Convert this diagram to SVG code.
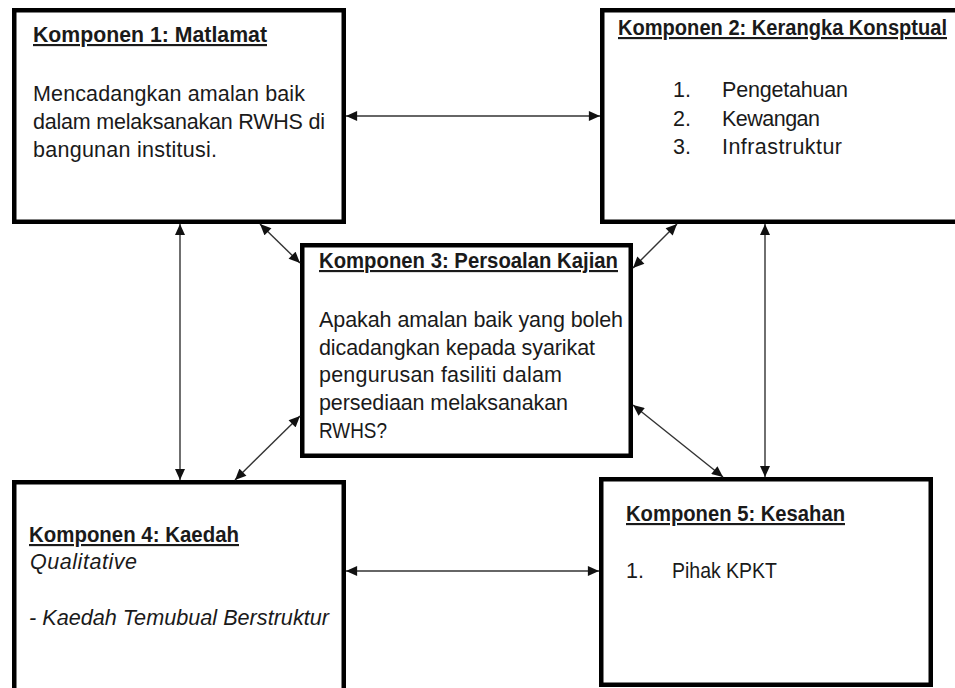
<svg xmlns="http://www.w3.org/2000/svg" width="955" height="688" viewBox="0 0 955 688">
<style>
.box{fill:#fff;stroke:#000;stroke-width:4.5}
text{font-family:"Liberation Sans",Arial,sans-serif;font-size:21.5px;fill:#1a1a1a}
.t{font-weight:bold;text-decoration:underline}
.i{font-style:italic}
.c{stroke:#333;stroke-width:1.4;fill:none;marker-start:url(#ah);marker-end:url(#ah)}
</style>
<defs>
<marker id="ah" markerUnits="userSpaceOnUse" markerWidth="12" markerHeight="10" refX="10" refY="4.5" orient="auto-start-reverse" viewBox="0 0 10 9">
<path d="M0,0 L10,4.5 L0,9 Z" fill="#111"/>
</marker>
</defs>
<rect width="955" height="688" fill="#fff"/>
<g id="node1">
<rect class="box" x="14.25" y="10.25" width="329.5" height="211.5"/>
<text class="t" x="33" y="42" textLength="234" lengthAdjust="spacingAndGlyphs">Komponen 1: Matlamat</text>
<text x="33" y="101" textLength="272">Mencadangkan amalan baik</text>
<text x="33" y="129" textLength="292">dalam melaksanakan RWHS di</text>
<text x="33" y="157" textLength="184">bangunan institusi.</text>
</g>
<g id="node2">
<rect class="box" x="602.25" y="10.25" width="360" height="211.5"/>
<text class="t" x="618" y="35" textLength="329" lengthAdjust="spacingAndGlyphs">Komponen 2: Kerangka Konsptual</text>
<text x="673" y="97">1.</text><text x="722" y="97" textLength="126">Pengetahuan</text>
<text x="673" y="125.5">2.</text><text x="722" y="125.5" textLength="98">Kewangan</text>
<text x="673" y="154">3.</text><text x="722" y="154" textLength="120">Infrastruktur</text>
</g>
<g id="node3">
<rect class="box" x="302.25" y="245.25" width="328.5" height="210.5"/>
<text class="t" x="319" y="268" textLength="299" lengthAdjust="spacingAndGlyphs">Komponen 3: Persoalan Kajian</text>
<text x="319" y="327" textLength="304">Apakah amalan baik yang boleh</text>
<text x="319" y="355" textLength="276">dicadangkan kepada syarikat</text>
<text x="319" y="382" textLength="243">pengurusan fasiliti dalam</text>
<text x="319" y="410" textLength="249">persediaan melaksanakan</text>
<text x="319" y="438" textLength="68" lengthAdjust="spacingAndGlyphs">RWHS?</text>
</g>
<g id="node4">
<rect class="box" x="14.25" y="482.25" width="329.5" height="220"/>
<text class="t" x="29" y="542" textLength="210" lengthAdjust="spacingAndGlyphs">Komponen 4: Kaedah</text>
<text class="i" x="30" y="569" textLength="107">Qualitative</text>
<text class="i" x="29" y="625" textLength="300" lengthAdjust="spacingAndGlyphs">- Kaedah Temubual Berstruktur</text>
</g>
<g id="node5">
<rect class="box" x="601.25" y="479.25" width="329.5" height="205.5"/>
<text class="t" x="626" y="521" textLength="219" lengthAdjust="spacingAndGlyphs">Komponen 5: Kesahan</text>
<text x="626" y="578">1.</text><text x="672" y="578" textLength="105" lengthAdjust="spacingAndGlyphs">Pihak KPKT</text>
</g>
<g id="connectors">
<line class="c" x1="346" y1="116" x2="600" y2="116"/>
<line class="c" x1="346" y1="571" x2="599" y2="571"/>
<line class="c" x1="180" y1="224" x2="180" y2="480"/>
<line class="c" x1="765" y1="224" x2="765" y2="477"/>
<line class="c" x1="260" y1="224" x2="300" y2="263"/>
<line class="c" x1="300" y1="416" x2="235" y2="480"/>
<line class="c" x1="677" y1="224" x2="633" y2="268"/>
<line class="c" x1="633" y1="405" x2="723" y2="477"/>
</g>
</svg>
